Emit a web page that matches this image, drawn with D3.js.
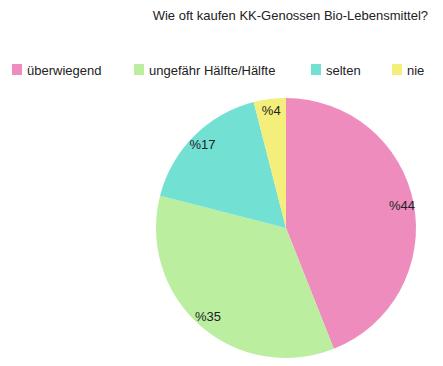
<!DOCTYPE html>
<html>
<head>
<meta charset="utf-8">
<script src="https://cdnjs.cloudflare.com/ajax/libs/d3/7.8.5/d3.min.js"></script>
<style>
  body { margin: 0; background: #fff; }
  text { font-family: "Liberation Sans", Arial, sans-serif; fill: #222; }
</style>
</head>
<body>
<div id="chart"></div>
<script>
// data
var categories = ["überwiegend", "ungefähr Hälfte/Hälfte", "selten", "nie"];
var values = [44, 35, 17, 4];
var colors = ["#ee8cbe", "#bbee9f", "#72e0d3", "#f4ee7b"];
var legendX = [12, 134, 311, 392];

var svgWidth = 443;
var svgHeight = 366;

var svg = d3.select("#chart")
            .append("svg")
            .attr("width", svgWidth)
            .attr("height", svgHeight);

// title
svg.append("text")
   .attr("x", 428)
   .attr("y", 20)
   .attr("text-anchor", "end")
   .attr("font-size", "13px")
   .text("Wie oft kaufen KK-Genossen Bio-Lebensmittel?");

// legend
var legend = svg.selectAll(".legend")
                .data(categories)
                .enter()
                .append("g")
                .attr("class", "legend")
                .attr("transform", (d, i) => `translate(${legendX[i]},64)`);

legend.append("rect")
      .attr("width", 10)
      .attr("height", 11)
      .attr("fill", (d, i) => colors[i]);

legend.append("text")
      .attr("x", 15)
      .attr("y", 10.5)
      .attr("font-size", "13px")
      .text(d => d);

// pie
var radius = 130;
var pieGroup = svg.append("g")
                  .attr("transform", "translate(286,228)");

var pie = d3.pie().sort(null).value(d => d);
var arc = d3.arc().innerRadius(0).outerRadius(radius);
var labelArc = d3.arc().innerRadius(118).outerRadius(118);

var arcs = pie(values);

pieGroup.selectAll("path")
        .data(arcs)
        .enter()
        .append("path")
        .attr("d", arc)
        .attr("fill", (d, i) => colors[i]);

pieGroup.selectAll(".lbl")
        .data(arcs)
        .enter()
        .append("text")
        .attr("class", "lbl")
        .attr("transform", d => `translate(${labelArc.centroid(d)})`)
        .attr("text-anchor", "middle")
        .attr("dy", "0.35em")
        .attr("font-size", "13px")
        .text(d => "%" + d.data);
</script>
</body>
</html>
